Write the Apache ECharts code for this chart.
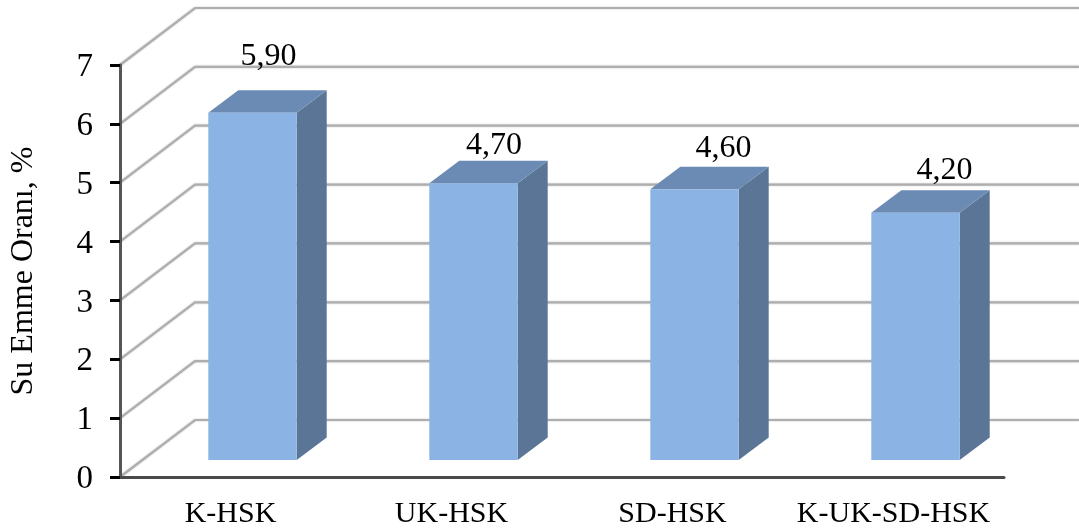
<!DOCTYPE html>
<html><head><meta charset="utf-8">
<style>html,body{margin:0;padding:0;background:#fff}#c{width:1079px;height:532px}</style>
<script src="https://cdn.jsdelivr.net/npm/echarts@6/dist/echarts.min.js"></script>
</head><body><div id="c"></div>
<script>
const categories = ['K-HSK','UK-HSK','SD-HSK','K-UK-SD-HSK'];
const values = [5.9,4.7,4.6,4.2];
const ticks = [0,1,2,3,4,5,6,7];
const fontFamily = '"Liberation Serif","Times New Roman",serif';
const chart = echarts.init(document.getElementById('c'),null,{renderer:'canvas'});
const wallDx=75, wallDy=-57, frontDx=22, frontDy=-17, barDx=30, barDy=-22.5;
const labelShift=[[16,-34],[20.5,-15],[29,-18],[29,-20]];
chart.setOption({
  animation:false,
  backgroundColor:'#fff',
  grid:{left:120,right:75,top:65,bottom:55,outerBoundsMode:'none'},
  xAxis:{type:'category',data:categories,
    axisLine:{lineStyle:{color:'#4a4a4a',width:3}},
    axisTick:{show:false},
    axisLabel:{color:'#000',fontFamily,fontSize:30,margin:22,interval:0},
    z:5},
  yAxis:{type:'value',min:0,max:7,interval:1,
    name:'Su Emme Oranı, %',nameLocation:'middle',nameGap:80,
    nameTextStyle:{color:'#000',fontFamily,fontSize:32},
    splitLine:{show:false},
    axisLine:{show:true,lineStyle:{color:'#555',width:3}},
    axisTick:{show:true,length:10,lineStyle:{color:'#000',width:3}},
    axisLabel:{color:'#000',fontFamily,fontSize:33,margin:27,formatter:'{a|{value}}',
      rich:{a:{color:'#000',fontFamily,fontSize:33,padding:[5,0,0,0]}}},
    z:5},
  series:[
    {type:'custom',z:1,silent:true,data:ticks.map(t=>[0,t]),encode:{x:0,y:1},
     renderItem(params,api){
       const y=api.coord([0,api.value(1)])[1], x=params.coordSys.x;
       return {type:'polyline',shape:{points:[[x,y],[x+wallDx,y+wallDy],[api.getWidth(),y+wallDy]]},
         style:{stroke:'#aeaeae',lineWidth:2.2,fill:null,shadowColor:'#c4c4c4',shadowBlur:2}};
     }},
    {type:'custom',z:3,data:values.map((v,i)=>[i,v]),encode:{x:0,y:1},
     renderItem(params,api){
       const i=api.value(0), v=api.value(1);
       const top=api.coord([i,v]), base=api.coord([i,0]);
       const w=api.size([1,0])[0]*0.4;
       const l=top[0]+frontDx-w/2, r=l+w, t=top[1]+frontDy, b=base[1]+frontDy;
       const s=labelShift[i];
       return {type:'group',children:[
         {type:'polygon',shape:{points:[[r,t],[r+barDx,t+barDy],[r+barDx,b+barDy],[r,b]]},style:{fill:'#5a7596'}},
         {type:'polygon',shape:{points:[[l,t],[l+barDx,t+barDy],[r+barDx,t+barDy],[r,t]]},style:{fill:'#6b8bb4'}},
         {type:'rect',shape:{x:l,y:t,width:w,height:b-t},style:{fill:'#8bb3e3'}},
         {type:'text',style:{text:v.toFixed(2).replace('.',','),x:l+w/2+s[0],y:t+barDy+s[1],align:'center',verticalAlign:'middle',
           fill:'#000',font:'32px '+fontFamily}}
       ]};
     }}
  ]
});
</script></body></html>
